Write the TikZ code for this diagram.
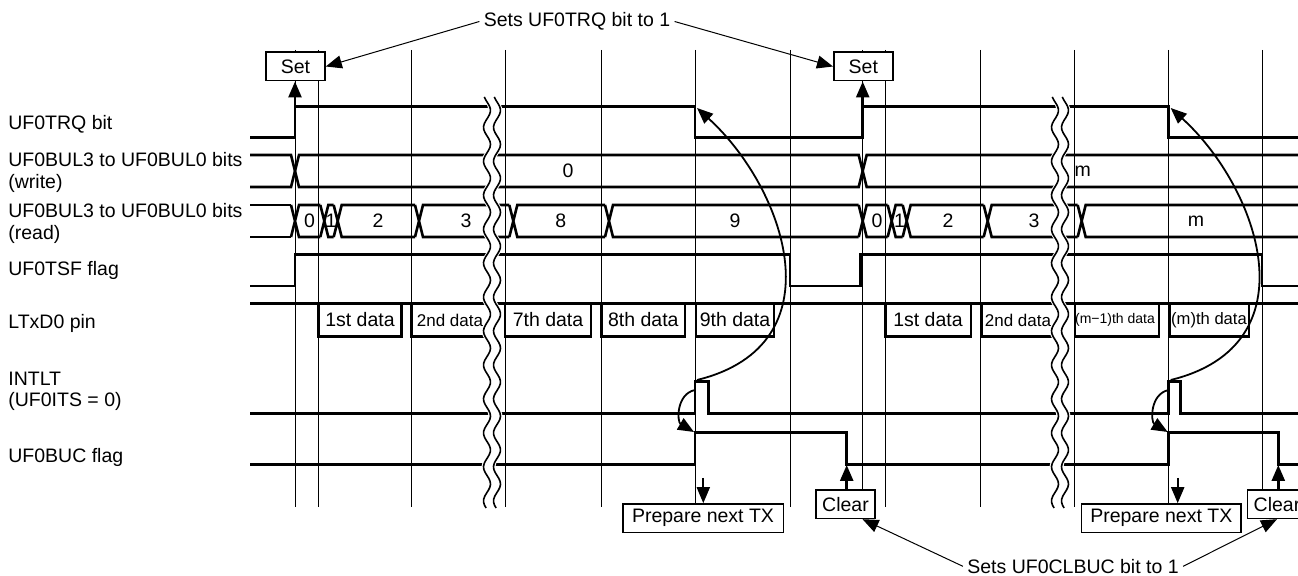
\documentclass[tikz,border=0pt]{standalone}
\usepackage{fontspec}
\setmainfont{Liberation Sans}
\usetikzlibrary{arrows.meta}

\tikzset{
  sig/.style={line width=1.3pt},
  gridln/.style={line width=0.5pt},
  evbox/.style={draw, line width=0.8pt, fill=white, inner sep=0pt,
    minimum width=29.5pt, minimum height=14.2pt},
  lbl/.style={anchor=base west, inner sep=0pt},
  lbl2/.style={anchor=west, align=left, inner sep=0pt},
  noteline/.style={line width=0.5pt, ->},
  hook/.style={line width=0.9pt, ->},
}

% wavy break across all signals
\newcommand{\wavebreak}[1]{%
  \fill[white] plot[domain=97:508, samples=140] ({#1-7+3.5*sin(10.6*\x)}, \x)
    -- plot[domain=508:97, samples=140] ({#1+7+3.5*sin(10.6*\x)}, \x) -- cycle;
  \draw[line width=0.8pt] plot[domain=97:508, samples=140] ({#1-5+3.5*sin(10.6*\x)}, \x);
  \draw[line width=0.8pt] plot[domain=97:508, samples=140] ({#1+5+3.5*sin(10.6*\x)}, \x);
}

\begin{document}
\begin{tikzpicture}[x=0.5pt, y=-0.5pt, >={Triangle[length=8pt,width=6.5pt]},
    font=\fontsize{9.75}{10.8}\selectfont]

    \path[fill=white, use as bounding box] (0,0) rectangle (1298,576);

    % Grid
    \foreach \gx in {295,318.3,411,505.7,601.7,695,790,862.7,885.7,980.7,1074,1168.7,1262.7}
        \draw[gridln] (\gx,50) -- (\gx,507);

    % Signal names
    \node[lbl] (ntrq) at (8,129.3) {UF0TRQ bit};
    \node[lbl2] (nbulw) at (8,172.5) {UF0BUL3 to UF0BUL0 bits\\(write)};
    \node[lbl2] (nbulr) at (8,223.3) {UF0BUL3 to UF0BUL0 bits\\(read)};
    \node[lbl] (ntsf) at (8,276) {UF0TSF flag};
    \node[lbl] (ntxd) at (8,329) {LTxD0 pin};
    \node[lbl2] (nint) at (8,391.3) {INTLT\\(UF0ITS = 0)};
    \node[lbl] (nbuc) at (8,462.3) {UF0BUC flag};

    % UF0TRQ bit
    \draw[sig] (250,137.3) -- (295,137.3) |- (695,106.7) |- (862.7,137.3) |- (1168.7,106.7) |- (1298,137.3);

    % UF0BUL3..0 (write)
    \draw[sig] (250,155) -- (291,155) -- (299,187) -- (858.7,187) -- (866.7,155) -- (1298,155);
    \draw[sig] (250,187) -- (291,187) -- (299,155) -- (858.7,155) -- (866.7,187) -- (1298,187);
    \node (w0) at (568,171) {0};
    \node (wm) at (1082.7,171) {m};

    % UF0BUL3..0 (read)
    \draw[sig] (250,205) -- (291,205) (250,237) -- (291,237);
    \foreach \a/\b in {295/324.3, 324.3/337.7, 337.7/419, 419/513.3, 513.3/609, 609/862.7,
                       862.7/891.7, 891.7/906.7, 906.7/987.7, 987.7/1081.7, 1081.7/1310}
        \draw[sig] (\a-4,205) -- (\a+4,237) -- (\b-4,237) (\a-4,237) -- (\a+4,205) -- (\b-4,205);
    \foreach \px/\t [count=\i] in {309.5/0, 331/1, 378/2, 466/3, 560.7/8, 735/9,
                                   877/0, 899.5/1, 948/2, 1034/3, 1196/m}
        \node (r\i) at (\px,221) {\t};

    % UF0TSF flag
    \draw[sig] (250,286) -- (295,286) |- (790,254.3) |- (860.7,286) |- (1262,254.3) |- (1298,286);

    % LTxD0 pin
    \draw[sig] (250,303.3) -- (1298,303.3);
    \foreach \l/\r/\c/\t [count=\i] in {318.3/401.7/360/1st data,
            411.7/492/450/{\fontsize{8.5}{10}\selectfont 2nd data},
            505/591/548/7th data, 601.7/685/643.3/8th data, 696/774/735/9th data,
            885.7/971/928/1st data,
            981.7/1060/1018/{\fontsize{8.5}{10}\selectfont 2nd data},
            1075/1159/1115/{\fontsize{7}{8}\selectfont (m−1)th data},
            1169.3/1249/1209/{\fontsize{8.3}{10}\selectfont (m)th data}} {
        \draw[sig] (\l,303.3) |- (\r,336.7) -- (\r,303.3);
        \node (d\i) at (\c,320) {\t};
    }

    % INTLT
    \draw[sig] (250,413.3) -- (695,413.3) |- (708.3,381.7) |- (1168.7,413.3) |- (1180.7,381.7) |- (1298,413.3);

    % UF0BUC flag
    \draw[sig] (250,464.3) -- (695,464.3) |- (846.7,432.7) |- (1168.7,464.3) |- (1278.3,432.7) |- (1298,464.3);

    % Breaks
    \wavebreak{492}
    \wavebreak{1060}

    % Set UF0TRQ
    \node[evbox] (set1) at (295.5,66.5) {Set};
    \node[evbox] (set2) at (863.3,66.5) {Set};
    \coordinate (rise1) at (295,106.7);
    \coordinate (rise2) at (862.7,106.7);
    \draw[sig,->] (rise1) -- (rise1 |- set1.south);
    \draw[sig,->] (rise2) -- (rise2 |- set2.south);
    \node[inner sep=2pt] (setnote) at (577,21.5) {Sets UF0TRQ bit to 1};
    \draw[noteline] (setnote.west) -- (set1.east);
    \draw[noteline] (setnote.east) -- (set2.west);

    % Clear UF0BUC
    \node[evbox] (clr1) at (845.5,504.2) {Clear};
    \node[evbox] (clr2) at (1277,504.2) {Clear};
    \coordinate (fall1) at (846.7,465);
    \coordinate (fall2) at (1278.3,465);
    \draw[sig,->] (fall1 |- clr1.north) -- (fall1);
    \draw[sig,->] (fall2 |- clr2.north) -- (fall2);
    \node[anchor=base, inner sep=2pt] (clrnote) at (1073,573.3) {Sets UF0CLBUC bit to 1};
    \draw[noteline] (clrnote.west) -- ([xshift=8.5pt]clr1.south);
    \draw[noteline] (clrnote.east) -- (clr2.south);

    % Prepare next TX
    \node[evbox, minimum width=80.3pt] (prep1) at (703,518.2) {Prepare next TX};
    \node[evbox, minimum width=79.7pt] (prep2) at (1161.3,518.2) {Prepare next TX};
    \coordinate (pa1) at (703.3,478);
    \coordinate (pa2) at (1177.7,478);
    \draw[line width=1pt,->] (pa1) -- (pa1 |- prep1.north);
    \draw[line width=1pt,->] (pa2) -- (pa2 |- prep2.north);

    % INTLT -> UF0TRQ cleared, UF0BUC set
    \coordinate (int1) at (697,380);
    \coordinate (int2) at (1170.7,380);
    \coordinate (trqf1) at (697,108);
    \coordinate (trqf2) at (1170.7,108);
    \draw[hook] (int1) .. controls (840,345) and (785,188) .. (trqf1);
    \draw[hook] (int2) .. controls (1313.7,345) and (1258.7,188) .. (trqf2);
    \coordinate (ints1) at (695,390);
    \coordinate (ints2) at (1168.7,390);
    \coordinate (bucr1) at (694,432);
    \coordinate (bucr2) at (1167.7,432);
    \draw[hook] (ints1) .. controls (676,394) and (677,422) .. (bucr1);
    \draw[hook] (ints2) .. controls (1149.7,394) and (1150.7,422) .. (bucr2);

\end{tikzpicture}
\end{document}
